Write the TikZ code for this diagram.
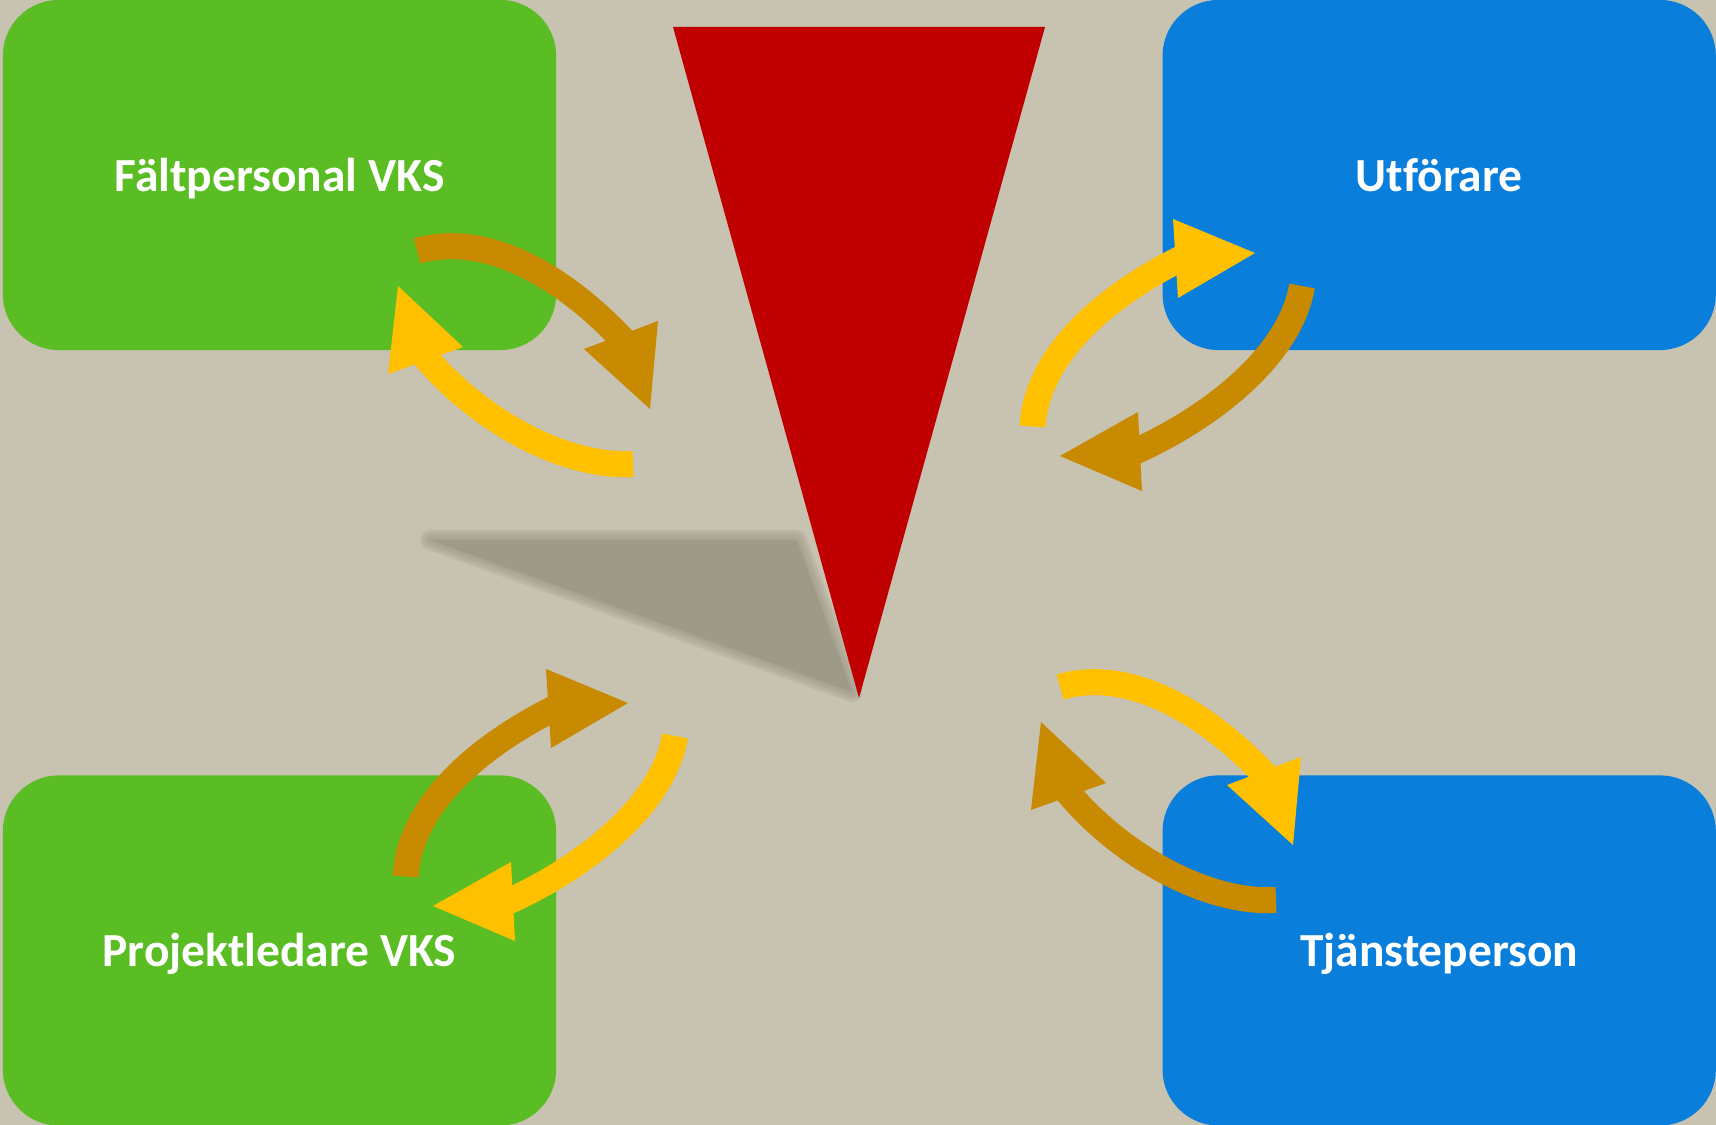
\documentclass[tikz,border=0pt]{standalone}
\usepackage{fontspec}
\setmainfont{Carlito}[Ligatures=NoCommon]
\usepackage{tikz}
\usetikzlibrary{positioning}

\definecolor{backcol}{RGB}{200,194,176}
\definecolor{grbox}{RGB}{90,189,35}
\definecolor{blbox}{RGB}{9,126,219}
\definecolor{redtri}{RGB}{192,0,0}
\definecolor{darkorange}{RGB}{200,138,0}
\definecolor{yelloworange}{RGB}{255,192,0}
\definecolor{shadowcol}{RGB}{158,154,136}

\tikzset{
  box/.style={rounded corners=0.56cm, minimum width=5.53cm, minimum height=3.5cm,
    inner sep=0pt, outer sep=0pt, text height=0.4cm, text depth=0.07cm,
    text=white, font=\bfseries\fontsize{13.5}{16}\selectfont},
  shaft/.style={line width=0.26cm},
}

\begin{document}
\begin{tikzpicture}[x=0.01cm,y=-0.01cm]
        \fill[backcol] (0,0) rectangle (1716,1125);
        \useasboundingbox (0,0) rectangle (1716,1125);
        % the four boxes
        \node[box, fill=grbox] (falt) at (279.5,175) {Fältpersonal VKS};
        \node[box, fill=grbox, below=4.25cm of falt] (proj) {Projektledare VKS};
        \node[box, fill=blbox, right=6.06cm of falt] (utfor) {Utförare};
        \node[box, fill=blbox, right=6.06cm of proj] (tjanst) {Tjänsteperson};
        % blurred shadow
        \foreach \w in {0.2cm,0.15cm,0.1cm,0.05cm}
            \draw[shadowcol, opacity=0.25, line width=\w, line join=round] (430,540) -- (797,540) -- (852,692) -- cycle;
        \fill[shadowcol] (430,540) -- (797,540) -- (852,692) -- cycle;
        % red wedge
        \fill[redtri] (673,27) -- (1045,27) -- (859,698) -- cycle;
        % arrows, top left and bottom right
        \foreach \sx/\sy/\ca/\cb in {0/0/darkorange/yelloworange, 643/436/yelloworange/darkorange} {
            \begin{scope}[shift={(\sx,\sy)}]
                \draw[shaft, \ca] (417,251) .. controls (489,230) and (568,281) .. (623,340);
                \fill[\ca] (584,349) -- (650,409) -- (658,321) -- cycle;
                \draw[shaft, \cb] (633,464) .. controls (558,468) and (471,413) .. (423.5,354.7);
                \fill[\cb] (388,374) -- (398,286) -- (463,347) -- cycle;
            \end{scope}
        }
        % arrows, top right and bottom left
        \foreach \sx/\sy/\ca/\cb in {0/0/yelloworange/darkorange, -627/450/darkorange/yelloworange} {
            \begin{scope}[shift={(\sx,\sy)}]
                \draw[shaft, \ca] (1032.5,426.5) .. controls (1037,352) and (1110,294) .. (1182,258);
                \fill[\ca] (1173,219) -- (1255,253) -- (1178,298) -- cycle;
                \draw[shaft, \cb] (1302,286) .. controls (1290,358) and (1206,420) .. (1134,452);
                \fill[\cb] (1138,412) -- (1060,456) -- (1142,491) -- cycle;
            \end{scope}
        }
\end{tikzpicture}
\end{document}
